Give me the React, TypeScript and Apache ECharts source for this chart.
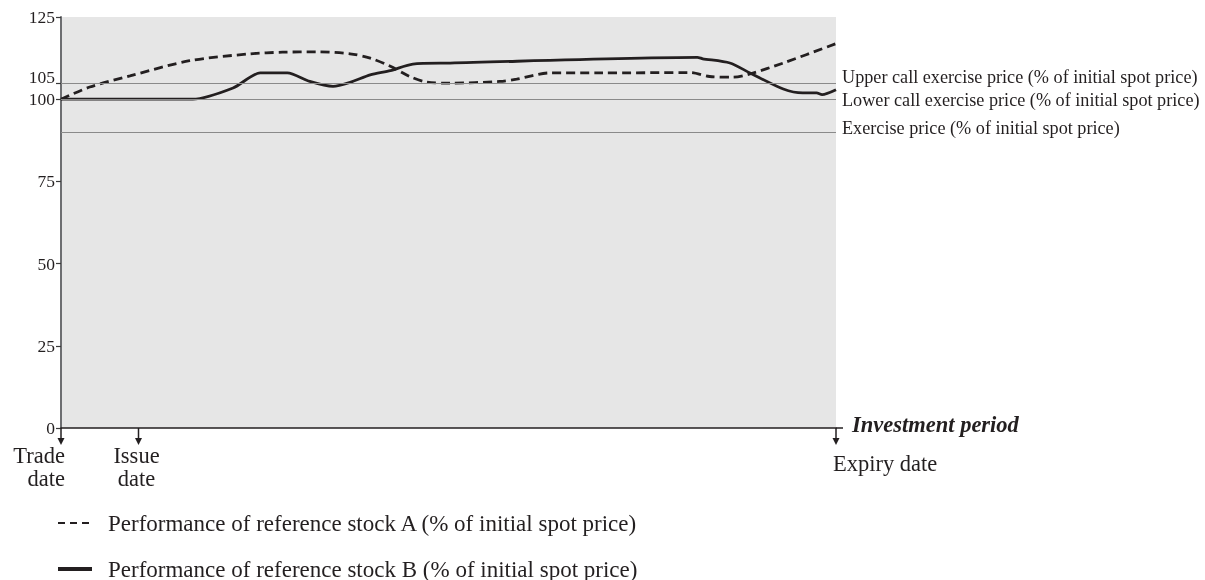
import React, { useEffect, useRef } from 'react';
import * as echarts from 'echarts';

// Investment period (0 = trade date, 100 = expiry date)
const timeA = [0, 3.7, 8.9, 16.6, 24.4, 28.6, 33.0, 37.3, 39.9, 42.5, 45.0, 47.2, 50.2, 56.6, 58.8, 63.1, 69.5, 81.2, 83.7, 86.7, 88.9, 93.2, 100];
const stockA = [100, 103.7, 107.1, 111.7, 113.8, 114.3, 114.4, 113.8, 112.5, 110.0, 106.9, 105.2, 104.9, 105.4, 106.1, 108.0, 108.0, 108.1, 106.9, 106.7, 107.7, 111.0, 116.9];

const timeB = [0, 17, 22.2, 25.7, 29.2, 32.1, 35.1, 37.3, 39.9, 42.5, 45.4, 50.2, 82.1, 82.8, 86.3, 88.9, 93.2, 95.7, 97.5, 98.2, 100];
const stockB = [100, 100, 103.4, 108.0, 108.0, 105.4, 103.9, 105.1, 107.4, 108.7, 110.7, 111.0, 112.7, 112.3, 111.0, 108.0, 103.1, 101.9, 101.9, 101.4, 102.9];

const yTicks = [0, 25, 50, 75, 100, 105, 125];
const levels = [105, 100, 90];
const levelLabels = [
  'Upper call exercise price (% of initial spot price)',
  'Lower call exercise price (% of initial spot price)',
  'Exercise price (% of initial spot price)',
];
const dateMarks = [0, 10, 100];
const dateLabels = ['Trade\ndate', 'Issue\ndate', 'Expiry date'];
const seriesNames = [
  'Performance of reference stock A (% of initial spot price)',
  'Performance of reference stock B (% of initial spot price)',
];
const axisName = 'Investment period';

const FONT = '"Liberation Serif", "Times New Roman", serif';
const INK = '#231f20';

export default function App() {
  const ref = useRef<HTMLDivElement>(null);

  useEffect(() => {
    const chart = echarts.init(ref.current!, null, { renderer: 'svg' });
    const labelOffsets = [-6, 1, -4];
    const option: any = {
      animation: false,
      grid: { left: 61, top: 17, width: 775, height: 411, show: true, backgroundColor: '#e6e6e6', borderWidth: 0 },
      xAxis: {
        type: 'value', min: 0, max: 100,
        axisLine: { show: true, onZero: false, lineStyle: { color: INK, width: 1.5 } },
        axisTick: { show: false }, axisLabel: { show: false }, splitLine: { show: false },
      },
      yAxis: {
        type: 'value', min: 0, max: 125,
        splitLine: { show: false },
        axisLine: { show: true, lineStyle: { color: '#6d6e71', width: 2 } },
        axisTick: { show: true, customValues: yTicks, length: 5, lineStyle: { color: '#3a3a3a', width: 1.2 } },
        axisLabel: {
          customValues: yTicks, fontFamily: FONT, fontSize: 17.5, color: INK, margin: 6,
          formatter: (v: number) => (v === 105 ? '{hi|105}' : String(v)),
          rich: { hi: { fontFamily: FONT, fontSize: 17.5, color: INK, padding: [0, 0, 11, 0] } },
        },
      },
      series: [
        {
          type: 'line', name: 'levels', data: [], silent: true,
          markLine: {
            silent: true, symbol: 'none', animation: false,
            lineStyle: { color: '#8a8a8a', width: 1, type: 'solid' },
            label: { position: 'end', distance: 6, fontFamily: FONT, fontSize: 18.2, color: INK },
            data: levels.map((v, i) => ({
              yAxis: v,
              label: { formatter: levelLabels[i], offset: [0, labelOffsets[i]] },
            })),
          },
        },
        {
          type: 'line', name: seriesNames[0], smooth: 0.3, symbol: 'none', showSymbol: false,
          data: timeA.map((t, i) => [t, stockA[i]]),
          lineStyle: { color: INK, width: 2.8, type: [9, 5] }, itemStyle: { color: INK },
        },
        {
          type: 'line', name: seriesNames[1], smooth: 0.25, symbol: 'none', showSymbol: false,
          data: timeB.map((t, i) => [t, stockB[i]]),
          lineStyle: { color: INK, width: 2.8 }, itemStyle: { color: INK },
        },
      ],
    };
    chart.setOption(option);

    const p = (x: number, y: number) => chart.convertToPixel({ gridIndex: 0 }, [x, y]) as number[];
    const graphics: any[] = [];
    const [xEnd, y0] = p(100, 0);
    graphics.push({ type: 'line', shape: { x1: xEnd, y1: y0, x2: xEnd + 7, y2: y0 }, style: { stroke: INK, lineWidth: 1.5 } });
    const aligns = [
      { align: 'right', dx: 4, vAlign: 'top', dy: 16 },
      { align: 'center', dx: -2, vAlign: 'top', dy: 16 },
      { align: 'left', dx: -3, vAlign: 'middle', dy: 35 },
    ];
    dateMarks.forEach((d, i) => {
      const [x, y] = p(d, 0);
      graphics.push({ type: 'line', z: 10, shape: { x1: x, y1: y, x2: x, y2: y + 12 }, style: { stroke: INK, lineWidth: 1.5 } });
      graphics.push({ type: 'polygon', z: 10, shape: { points: [[x - 3.5, y + 10], [x + 3.5, y + 10], [x, y + 17]] }, style: { fill: INK } });
      const a = aligns[i];
      graphics.push({
        type: 'text', x: x + a.dx, y: y + a.dy,
        style: { text: dateLabels[i], fill: INK, font: `22.5px ${FONT}`, textAlign: a.align, textVerticalAlign: a.vAlign, lineHeight: 23 },
      });
    });
    graphics.push({
      type: 'text', x: xEnd + 16, y: y0 - 4,
      style: { text: axisName, fill: INK, font: `italic bold 22.5px ${FONT}`, textAlign: 'left', textVerticalAlign: 'middle' },
    });

    // Legend
    const legendRows = [523, 569];
    graphics.push({ type: 'line', shape: { x1: 58, y1: legendRows[0], x2: 89, y2: legendRows[0] }, style: { stroke: INK, lineWidth: 2, lineDash: [7, 5] } });
    graphics.push({ type: 'line', shape: { x1: 58, y1: legendRows[1], x2: 92, y2: legendRows[1] }, style: { stroke: INK, lineWidth: 4 } });
    seriesNames.forEach((n, i) => {
      graphics.push({
        type: 'text', x: 108, y: legendRows[i],
        style: { text: n, fill: INK, font: `23px ${FONT}`, textAlign: 'left', textVerticalAlign: 'middle' },
      });
    });
    chart.setOption({ graphic: graphics });

    return () => chart.dispose();
  }, []);

  return <div ref={ref} style={{ position: 'fixed', left: 0, top: 0, width: 1205, height: 580 }} />;
}
